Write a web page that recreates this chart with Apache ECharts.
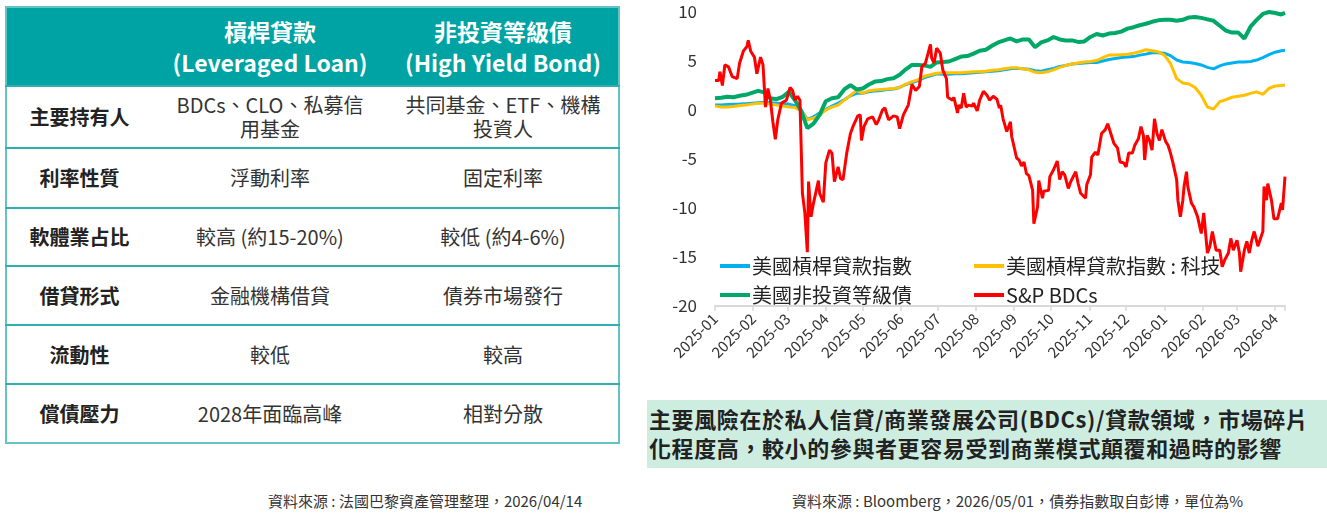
<!DOCTYPE html>
<html>
<head>
<meta charset="utf-8">
<script src="https://cdn.jsdelivr.net/npm/echarts@6.0.0/dist/echarts.min.js"></script>
<style>
  html, body { margin: 0; padding: 0; background: #fff; }
  body {
    width: 1327px; height: 513px; position: relative; overflow: hidden;
    font-family: "Noto Sans CJK TC", "Noto Sans", sans-serif; color: #333;
  }
  #cmp {
    position: absolute; left: 5px; top: 6px; width: 613px;
    border-collapse: collapse; table-layout: fixed;
    border: 2px solid #62c4c4;
  }
  #cmp th {
    background: #00a3a3; color: #fff; font-weight: 700;
    font-size: 23px; line-height: 31px; height: 77px; padding: 0;
  }
  #cmp td {
    border-top: 2px solid #2eb0b0; text-align: center; padding: 0;
    font-size: 20px; line-height: 24px; color: #333;
  }
  #cmp td.lbl { font-weight: 700; color: #222; }
  #chart { position: absolute; left: 640px; top: 0; width: 687px; height: 390px; }
  #note {
    position: absolute; left: 647px; top: 400px; width: 680px; height: 68px;
    background: #cdede1; box-sizing: border-box; padding: 4px 0 0 2px;
    font-size: 22px; line-height: 29px; font-weight: 700; color: #222;
    white-space: nowrap; letter-spacing: 0.6px;
  }
  .src { position: absolute; top: 490px; font-size: 15px; color: #333; white-space: nowrap; }
</style>
</head>
<body>
<table id="cmp">
  <colgroup><col style="width:146px"><col style="width:236px"><col style="width:231px"></colgroup>
  <thead><tr id="head"></tr></thead>
  <tbody id="rows"></tbody>
</table>
<div id="chart"></div>
<div id="note"></div>
<div class="src" id="srcL" style="left:268px"></div>
<div class="src" id="srcR" style="left:792px"></div>
<script>
// table content
const headCols = ['', '槓桿貸款<br>(Leveraged Loan)', '非投資等級債<br>(High Yield Bond)']
const rowLabels = ['主要持有人', '利率性質', '軟體業占比', '借貸形式', '流動性', '償債壓力']
const loanCol = ['BDCs、CLO、私募信<br>用基金', '浮動利率', '較高 (約15-20%)', '金融機構借貸', '較低', '2028年面臨高峰']
const hyCol = ['共同基金、ETF、機構<br>投資人', '固定利率', '較低 (約4-6%)', '債券市場發行', '較高', '相對分散']
const rowHeights = [62, 60, 58, 59, 59, 59]

const noteText = '主要風險在於私人信貸/商業發展公司(BDCs)/貸款領域，市場碎片<br>化程度高，較小的參與者更容易受到商業模式顛覆和過時的影響'
const srcLeft = '資料來源 : 法國巴黎資產管理整理，2026/04/14'
const srcRight = '資料來源 : Bloomberg，2026/05/01，債券指數取自彭博，單位為%'

// chart data (% return)
const seriesNames = ['美國槓桿貸款指數', '美國槓桿貸款指數 : 科技', '美國非投資等級債', 'S&P BDCs']

const lineDates = [
  '2025-01-01', '2025-01-06', '2025-01-11', '2025-01-16', '2025-01-21', '2025-01-26', '2025-01-31',
  '2025-02-05', '2025-02-10', '2025-02-15', '2025-02-20', '2025-02-25', '2025-03-02', '2025-03-07',
  '2025-03-12', '2025-03-17', '2025-03-22', '2025-03-27', '2025-04-01', '2025-04-06', '2025-04-11',
  '2025-04-16', '2025-04-21', '2025-04-26', '2025-05-01', '2025-05-06', '2025-05-11', '2025-05-16',
  '2025-05-21', '2025-05-26', '2025-05-31', '2025-06-05', '2025-06-10', '2025-06-15', '2025-06-20',
  '2025-06-25', '2025-06-30', '2025-07-05', '2025-07-10', '2025-07-15', '2025-07-20', '2025-07-25',
  '2025-07-30', '2025-08-04', '2025-08-09', '2025-08-14', '2025-08-19', '2025-08-24', '2025-08-29',
  '2025-09-03', '2025-09-08', '2025-09-13', '2025-09-18', '2025-09-23', '2025-09-28', '2025-10-03',
  '2025-10-08', '2025-10-13', '2025-10-18', '2025-10-23', '2025-10-28', '2025-11-02', '2025-11-07',
  '2025-11-12', '2025-11-17', '2025-11-22', '2025-11-27', '2025-12-02', '2025-12-07', '2025-12-12',
  '2025-12-17', '2025-12-22', '2025-12-27', '2026-01-01', '2026-01-06', '2026-01-11', '2026-01-16',
  '2026-01-21', '2026-01-26', '2026-01-31', '2026-02-05', '2026-02-10', '2026-02-15', '2026-02-20',
  '2026-02-25', '2026-03-02', '2026-03-07', '2026-03-12', '2026-03-17', '2026-03-22', '2026-03-27',
  '2026-04-01', '2026-04-06', '2026-04-09'
]

const loanIdx = [
  0.5, 0.52, 0.55, 0.58, 0.6, 0.65, 0.7, 0.75, 0.8, 0.75, 0.7, 0.65, 0.6, 0.45,
  0.0, -0.95, -0.7, -0.3, 0.05, 0.4, 0.7, 1.05, 1.45, 1.7, 1.7, 1.85, 1.95, 2.0,
  2.1, 2.15, 2.3, 2.6, 2.8, 3.0, 3.3, 3.5, 3.7, 3.65, 3.65, 3.7, 3.7, 3.75,
  3.8, 3.85, 3.9, 3.95, 4.0, 4.1, 4.2, 4.25, 4.2, 4.15, 4.0, 3.95, 4.1, 4.25,
  4.45, 4.55, 4.7, 4.75, 4.8, 4.85, 4.85, 5.0, 5.15, 5.25, 5.35, 5.4, 5.45, 5.6,
  5.7, 5.85, 5.85, 5.8, 5.55, 5.1, 4.9, 4.85, 4.75, 4.6, 4.35, 4.2, 4.5, 4.7,
  4.8, 4.9, 4.9, 4.95, 5.1, 5.35, 5.65, 5.9, 6.05, 6.1
]

const loanTech = [
  0.4, 0.3, 0.3, 0.35, 0.45, 0.5, 0.6, 0.7, 0.7, 0.6, 0.5, 0.4, 0.3, 0.25,
  -0.1, -1.0, -0.85, -0.5, 0.0, 0.3, 0.5, 1.0, 1.5, 2.0, 1.7, 1.95, 2.05, 2.1,
  2.15, 2.2, 2.3, 2.65, 2.9, 3.1, 3.45, 3.6, 3.75, 3.8, 3.8, 3.8, 3.8, 3.85,
  3.9, 3.9, 3.95, 4.05, 4.1, 4.2, 4.3, 4.3, 4.2, 4.1, 3.85, 3.8, 3.9, 4.1,
  4.35, 4.55, 4.7, 4.8, 4.9, 4.95, 5.05, 5.35, 5.6, 5.6, 5.65, 5.7, 5.8, 5.95,
  6.15, 6.05, 5.95, 5.6, 4.75, 3.2, 2.75, 2.65, 2.3, 1.5, 0.3, 0.1, 0.85, 1.05,
  1.3, 1.4, 1.5, 1.7, 1.85, 1.6, 2.2, 2.45, 2.5, 2.55
]

const highYield = [
  1.2, 1.25, 1.35, 1.3, 1.45, 1.55, 1.75, 1.95, 1.8, 1.2, 1.1, 1.35, 1.85, 1.0,
  -0.1, -1.85, -1.4, -0.5, 0.9, 1.2, 1.3, 2.1, 2.55, 2.1, 2.2, 2.6, 2.9, 2.95,
  3.15, 3.25, 3.6, 4.15, 4.6, 4.6, 4.55, 4.4, 4.85, 4.9, 4.95, 5.2, 5.45, 5.5,
  5.75, 6.05, 6.15, 6.55, 6.9, 7.1, 7.3, 7.0, 7.2, 7.2, 6.4, 6.9, 7.1, 7.45,
  7.2, 7.1, 7.1, 6.95, 7.0, 7.45, 7.75, 7.6, 7.8, 7.85, 8.0, 8.3, 8.45, 8.65,
  8.8, 9.0, 9.15, 9.2, 9.2, 9.1, 9.2, 9.45, 9.5, 9.4, 9.25, 9.1, 8.6, 8.1,
  7.9, 7.9, 7.3, 8.5, 9.2, 9.8, 10.0, 9.9, 9.75, 9.9
]

const bdcDates = [
  '2025-01-01', '2025-01-04', '2025-01-05', '2025-01-07', '2025-01-09', '2025-01-12', '2025-01-15',
  '2025-01-19', '2025-01-21', '2025-01-24', '2025-01-27', '2025-01-28', '2025-01-30', '2025-02-02',
  '2025-02-04', '2025-02-05', '2025-02-07', '2025-02-09', '2025-02-11', '2025-02-13', '2025-02-15',
  '2025-02-17', '2025-02-19', '2025-02-21', '2025-02-24', '2025-02-28', '2025-03-03', '2025-03-05',
  '2025-03-07', '2025-03-09', '2025-03-11', '2025-03-13', '2025-03-15', '2025-03-17', '2025-03-18',
  '2025-03-20', '2025-03-22', '2025-03-26', '2025-03-27', '2025-03-30', '2025-04-01', '2025-04-04',
  '2025-04-06', '2025-04-08', '2025-04-11', '2025-04-13', '2025-04-15', '2025-04-18', '2025-04-21',
  '2025-04-23', '2025-04-27', '2025-04-29', '2025-04-30', '2025-05-02', '2025-05-05', '2025-05-09',
  '2025-05-12', '2025-05-14', '2025-05-17', '2025-05-19', '2025-05-22', '2025-05-26', '2025-05-29',
  '2025-05-31', '2025-06-03', '2025-06-07', '2025-06-10', '2025-06-13', '2025-06-16', '2025-06-18',
  '2025-06-21', '2025-06-25', '2025-06-26', '2025-06-28', '2025-06-30', '2025-07-03', '2025-07-05',
  '2025-07-08', '2025-07-09', '2025-07-13', '2025-07-14', '2025-07-17', '2025-07-18', '2025-07-20',
  '2025-07-22', '2025-07-24', '2025-07-26', '2025-07-29', '2025-07-30', '2025-08-02', '2025-08-04',
  '2025-08-07', '2025-08-10', '2025-08-12', '2025-08-15', '2025-08-18', '2025-08-20', '2025-08-21',
  '2025-08-23', '2025-08-26', '2025-08-29', '2025-08-30', '2025-09-03', '2025-09-05', '2025-09-07',
  '2025-09-09', '2025-09-11', '2025-09-13', '2025-09-16', '2025-09-17', '2025-09-20', '2025-09-21',
  '2025-09-24', '2025-09-25', '2025-09-29', '2025-09-30', '2025-10-03', '2025-10-06', '2025-10-08',
  '2025-10-10', '2025-10-12', '2025-10-15', '2025-10-17', '2025-10-21', '2025-10-23', '2025-10-25',
  '2025-10-29', '2025-10-30', '2025-11-02', '2025-11-03', '2025-11-06', '2025-11-08', '2025-11-11',
  '2025-11-14', '2025-11-16', '2025-11-19', '2025-11-21', '2025-11-24', '2025-11-26', '2025-11-29',
  '2025-12-01', '2025-12-03', '2025-12-06', '2025-12-08', '2025-12-11', '2025-12-13', '2025-12-15',
  '2025-12-16', '2025-12-18', '2025-12-20', '2025-12-22', '2025-12-24', '2025-12-26', '2025-12-28',
  '2025-12-30', '2026-01-02', '2026-01-04', '2026-01-06', '2026-01-08', '2026-01-11', '2026-01-12',
  '2026-01-14', '2026-01-16', '2026-01-17', '2026-01-19', '2026-01-20', '2026-01-23', '2026-01-25',
  '2026-01-28', '2026-01-31', '2026-02-02', '2026-02-05', '2026-02-07', '2026-02-09', '2026-02-12',
  '2026-02-15', '2026-02-17', '2026-02-19', '2026-02-22', '2026-02-24', '2026-02-26', '2026-03-01',
  '2026-03-03', '2026-03-04', '2026-03-07', '2026-03-09', '2026-03-11', '2026-03-13', '2026-03-15',
  '2026-03-18', '2026-03-22', '2026-03-23', '2026-03-25', '2026-03-26', '2026-03-29', '2026-03-31',
  '2026-04-03', '2026-04-06', '2026-04-07', '2026-04-09'
]

const bdcVals = [
  3.0, 3.0, 3.9, 2.5, 4.6, 4.4, 3.4,
  3.2, 4.8, 6.0, 6.5, 7.1, 6.0, 5.4,
  3.7, 3.6, 5.4, 4.6, 0.3, 2.2, 1.0,
  -1.2, -3.0, -1.0, 0.7, 1.0, 2.3, 2.0,
  1.0, 1.4, 1.0, -8.5, -10.5, -14.5, -7.3,
  -10.9, -9.5, -7.2, -8.5, -9.4, -5.4, -4.1,
  -4.4, -7.3, -5.8, -7.0, -7.1, -4.4, -2.4,
  -1.7, -0.6, -0.5, -3.1, -1.7, -0.9, -0.7,
  -1.5, -1.0, 0.0, 0.2, -1.0, -0.6, -0.7,
  -1.9, -0.5, 0.5, 2.6, 2.0, 2.4, 4.4,
  4.8, 6.7, 5.3, 4.8, 6.3, 5.8, 4.1,
  3.2, 1.3, 1.0, 1.3, -0.3, 0.5, 0.2,
  1.7, 0.3, 0.5, 0.4, 0.7, -0.1, 1.0,
  1.9, 1.5, 1.0, 1.4, 1.1, 0.2, 0.5,
  -0.9, -2.2, -1.2, -2.7, -4.9, -5.1, -5.7,
  -5.3, -6.5, -6.7, -8.2, -11.6, -9.9, -7.2,
  -9.0, -8.3, -8.2, -6.8, -6.1, -5.2, -7.1,
  -6.3, -6.6, -8.0, -7.3, -6.3, -7.5, -8.5,
  -9.0, -7.6, -6.6, -4.8, -4.3, -4.6, -2.4,
  -2.0, -1.4, -2.6, -3.4, -3.9, -5.3, -5.4,
  -5.8, -4.4, -4.4, -3.6, -2.9, -1.7, -2.6,
  -5.1, -2.6, -3.1, -4.1, -0.9, -2.4, -3.1,
  -2.0, -3.2, -3.6, -4.4, -5.4, -7.1, -9.2,
  -10.9, -9.2, -7.8, -6.3, -7.8, -9.5, -9.9,
  -10.9, -12.6, -10.5, -14.6, -13.9, -12.4, -14.3,
  -14.3, -16.0, -15.3, -14.6, -13.1, -14.3, -13.3,
  -14.6, -16.5, -14.3, -13.4, -14.6, -13.3, -12.4,
  -13.9, -12.4, -7.8, -9.2, -7.5, -9.2, -11.1,
  -11.1, -9.5, -10.2, -6.8
]

const yTicks = { min: -20, max: 10, step: 5 }
const xRange = ['2025-01-01', '2026-04-09']

// --- table + notes
document.getElementById('head').innerHTML = headCols.map(h => `<th>${h}</th>`).join('')
document.getElementById('rows').innerHTML = rowLabels.map((lbl, i) =>
  `<tr style="height:${rowHeights[i]}px"><td class="lbl">${lbl}</td><td>${loanCol[i]}</td><td>${hyCol[i]}</td></tr>`
).join('')
document.getElementById('note').innerHTML = noteText
document.getElementById('srcL').textContent = srcLeft
document.getElementById('srcR').textContent = srcRight

// --- chart
const FONT = '"Noto Sans CJK TC", "Noto Sans", sans-serif'
const colors = ['#00b0f0', '#ffc000', '#00a868', '#ff0000']
const widths = [3, 3, 4, 3]

const zip = (dates, vals) => dates.map((d, i) => [d, vals[i]])
const seriesData = [
  zip(lineDates, loanIdx),
  zip(lineDates, loanTech),
  zip(lineDates, highYield),
  zip(bdcDates, bdcVals),
]

const chart = echarts.init(document.getElementById('chart'))
const DAY = 24 * 3600 * 1000
const timeAxisBase = {
  type: 'time',
  min: xRange[0],
  max: xRange[1],
  splitNumber: 16,
  minInterval: 28 * DAY,
  maxInterval: 31 * DAY,
  splitLine: { show: false },
}
const legendBase = {
  left: 75, icon: 'rect', itemWidth: 30, itemHeight: 4, itemGap: 62, selectedMode: false,
  textStyle: { fontSize: 20, color: '#222', fontFamily: FONT, padding: [0, 0, 0, -3] },
}

chart.setOption({
  animation: false,
  textStyle: { fontFamily: FONT },
  grid: { left: 75, right: 42, top: 12, bottom: 84 },
  legend: [
    { ...legendBase, data: seriesNames.slice(0, 2), top: 251 },
    { ...legendBase, data: seriesNames.slice(2), top: 280 },
  ],
  xAxis: [
    {
      ...timeAxisBase,
      axisLine: { show: false },
      axisTick: { show: false },
      axisLabel: {
        rotate: 45, margin: 10, fontSize: 15, color: '#333',
        formatter: '{yyyy}-{MM}', hideOverlap: false,
      },
    },
    {
      ...timeAxisBase,
      position: 'bottom',
      axisLine: { show: true, onZero: true, lineStyle: { color: '#d9d9d9', width: 2 } },
      axisTick: { show: true, length: 5, lineStyle: { color: '#d9d9d9', width: 1.5 } },
      axisLabel: { show: false },
    },
  ],
  yAxis: {
    type: 'value',
    min: yTicks.min, max: yTicks.max, interval: yTicks.step,
    axisLine: { show: false },
    axisTick: { show: false },
    splitLine: { show: false },
    axisLabel: { fontSize: 17, color: '#333', margin: 18 },
  },
  series: seriesNames.map((name, i) => ({
    name,
    type: 'line',
    xAxisIndex: 0,
    data: seriesData[i],
    symbol: 'none',
    color: colors[i],
    lineStyle: { color: colors[i], width: widths[i] },
    itemStyle: { color: colors[i] },
    z: 2 + i,
  })),
})
</script>
</body>
</html>
